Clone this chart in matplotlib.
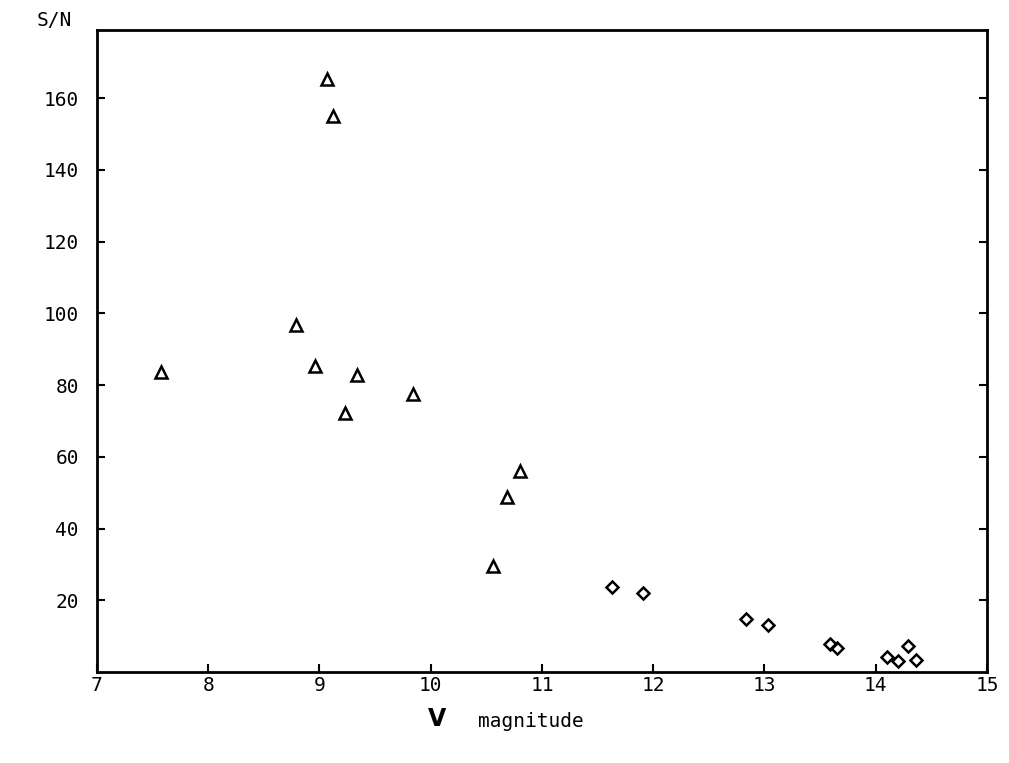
import numpy as np
import matplotlib
matplotlib.use('Agg')
import matplotlib.pyplot as plt

# triangles: brighter stars
tri_mag = [7.58, 8.79, 8.96, 9.07, 9.12, 9.23, 9.34, 9.84, 10.56, 10.69, 10.80]
tri_sn = [83.7, 96.8, 85.4, 165.4, 155.1, 72.2, 82.8, 77.5, 29.6, 48.8, 56.1]

# diamonds: fainter stars
dia_mag = [11.63, 11.91, 12.83, 13.03, 13.59, 13.65, 14.10, 14.20, 14.29, 14.36]
dia_sn = [23.7, 22.0, 14.7, 13.1, 7.8, 6.6, 4.3, 3.1, 7.2, 3.3]

xticks = [7, 8, 9, 10, 11, 12, 13, 14, 15]
yticks = [20, 40, 60, 80, 100, 120, 140, 160]

font = 'DejaVu Sans Mono'

fig = plt.figure(figsize=(10.09, 7.63), dpi=100)
ax = fig.add_axes([0.0961, 0.1193, 0.882, 0.8414])

ax.plot(tri_mag, tri_sn, linestyle='none', marker='^', markersize=8.5,
        markerfacecolor='none', markeredgecolor='black', markeredgewidth=1.8)
ax.plot(dia_mag, dia_sn, linestyle='none', marker='D', markersize=6,
        markerfacecolor='none', markeredgecolor='black', markeredgewidth=1.8)

ax.set_xlim(7, 15)
ax.set_ylim(0, 179)
ax.set_xticks(xticks)
ax.set_yticks(yticks)
ax.set_xticklabels([str(t) for t in xticks], fontfamily=font, fontsize=14)
ax.set_yticklabels([str(t) for t in yticks], fontfamily=font, fontsize=14)
ax.tick_params(direction='in', length=6, width=1.5, top=False, right=True,
               pad=13)
ax.tick_params(axis='x', pad=3)

for s in ax.spines.values():
    s.set_linewidth(2)

fig.text(0.036, 0.973, 'S/N', fontfamily=font, fontsize=14, va='center')
fig.text(0.433, 0.058, 'V', fontfamily='DejaVu Sans', fontweight='bold',
         fontsize=17, va='center', ha='center')
fig.text(0.474, 0.055, 'magnitude', fontfamily=font, fontsize=14, va='center')

fig.savefig('out.png', dpi=100)
